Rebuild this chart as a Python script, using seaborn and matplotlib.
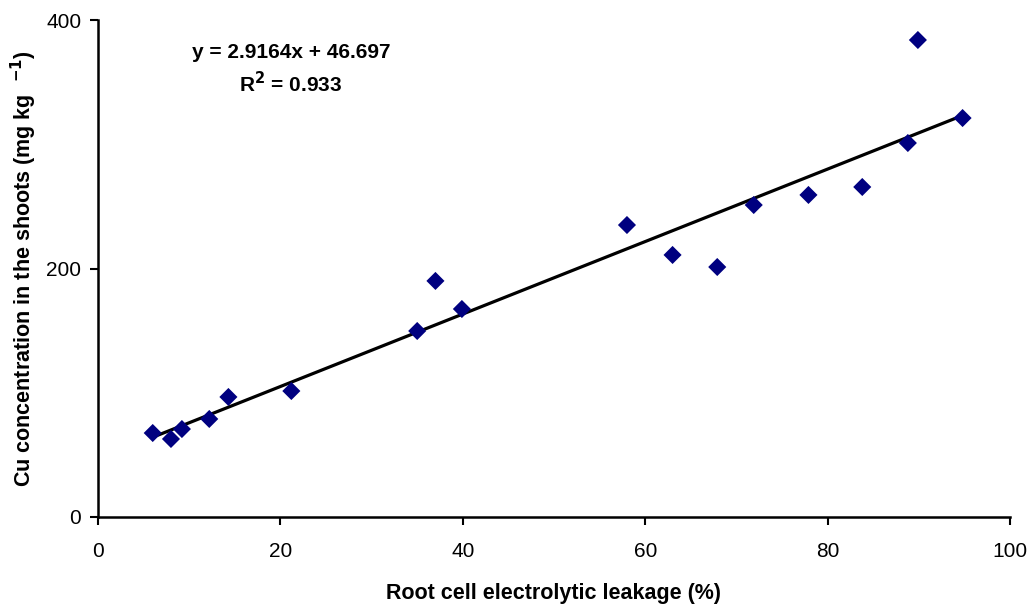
import matplotlib
matplotlib.use("Agg")
import matplotlib.pyplot as plt
import seaborn as sns
import numpy as np
import pandas as pd

leakage = [6.0, 8.0, 9.2, 12.2, 14.3, 21.2, 35.0, 37.0, 39.9, 58.0, 63.0, 67.9, 71.9, 77.9, 83.8, 88.8, 89.9, 94.8]
cu_shoots = [67.6, 62.8, 70.8, 78.9, 96.6, 101.4, 149.7, 190.0, 167.4, 235.0, 210.9, 201.2, 251.1, 259.2, 265.6, 301.0, 383.9, 321.1]
slope = 2.9164
intercept = 46.697
r2 = 0.933
x_ticks = [0, 20, 40, 60, 80, 100]
y_ticks = [0, 200, 400]

df = pd.DataFrame({"leakage": leakage, "cu": cu_shoots})

sns.set_style("ticks")
plt.rcParams['font.family'] = ['Liberation Sans', 'DejaVu Sans']
plt.rcParams['text.color'] = 'black'
plt.rcParams['axes.labelcolor'] = 'black'
plt.rcParams['xtick.color'] = 'black'
plt.rcParams['ytick.color'] = 'black'

fig = plt.figure(figsize=(10.32, 6.08), dpi=100)
ax = fig.add_axes([98/1032, 1 - 517/608, (1010 - 98)/1032, (517 - 20)/608])

xl = np.array([min(leakage), max(leakage)])
ax.plot(xl, slope * xl + intercept, color="black", lw=2.3, zorder=2)
sns.scatterplot(data=df, x="leakage", y="cu", marker="D", color="#000080",
                s=85, edgecolor="none", ax=ax, zorder=3)

ax.set_xlim(0, 100)
ax.set_ylim(0, 400)
ax.set_xticks(x_ticks)
ax.set_yticks(y_ticks)
ax.tick_params(axis="both", labelsize=15, length=6, width=1.5, direction="out",
               color="black", labelcolor="black")
ax.tick_params(axis="x", pad=12)
ax.tick_params(axis="y", pad=6)
for s in ["top", "right"]:
    ax.spines[s].set_visible(False)
for s in ["left", "bottom"]:
    ax.spines[s].set_linewidth(1.8)
    ax.spines[s].set_color("black")

ax.set_xlabel("Root cell electrolytic leakage (%)", fontsize=15.5, fontweight="bold", labelpad=16)
ax.set_ylabel(r"Cu concentration in the shoots (mg kg  $^{\mathbf{-1}}$)", fontsize=15.5,
              fontweight="bold", labelpad=5)

ax.text(0.212, 0.935, "y = 2.9164x + 46.697", transform=ax.transAxes, ha="center", va="center",
        fontsize=15, fontweight="bold")
ax.text(0.211, 0.872, r"R$^{\mathbf{2}}$ = " + f"{r2:.3f}", transform=ax.transAxes,
        ha="center", va="center", fontsize=15, fontweight="bold")

fig.savefig("out.png", dpi=100)
